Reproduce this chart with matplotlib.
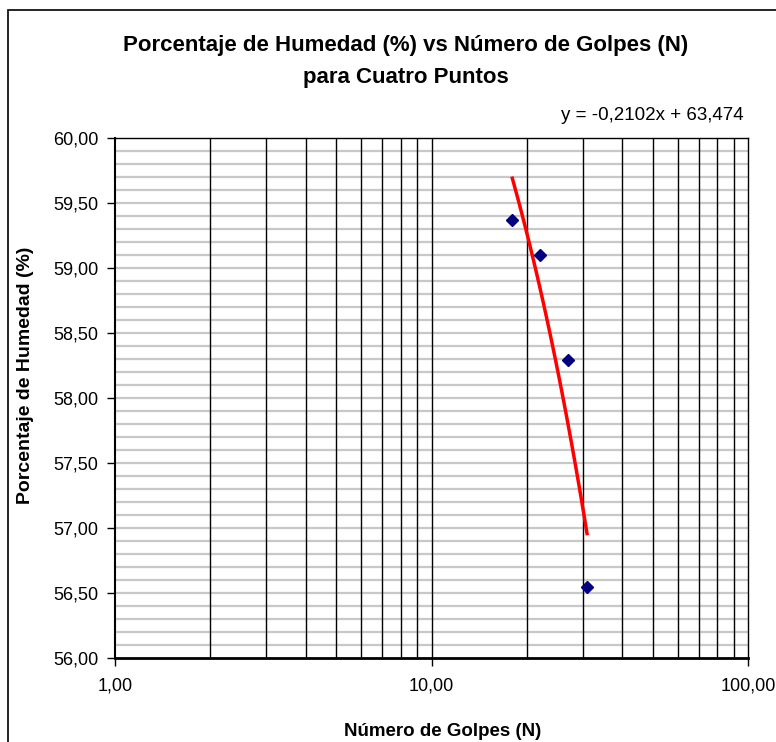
import matplotlib.pyplot as plt
import numpy as np
from matplotlib.patches import Rectangle
from matplotlib.ticker import FixedLocator, FuncFormatter, NullFormatter

plt.rcParams["font.family"] = ["Liberation Sans", "DejaVu Sans"]

# golpes (N) y humedad (%) de los cuatro puntos
golpes = [18, 22, 27, 31]
humedad = [59.37, 59.10, 58.29, 56.55]

# linea de tendencia que da Excel
slope = -0.2102
intercept = 63.474
trend_label = "y = -0,2102x + 63,474"

x_ticks = [1, 10, 100]
y_ticks = [56.0, 56.5, 57.0, 57.5, 58.0, 58.5, 59.0, 59.5, 60.0]


def comma(v, _pos=None):
    return f"{v:.2f}".replace(".", ",")


fig = plt.figure(figsize=(7.76, 7.42), dpi=100)
fig.patches.append(
    Rectangle((8 / 776, -0.05), 1.2, (742 - 10) / 742 + 0.05,
              transform=fig.transFigure, fill=False, edgecolor="black",
              linewidth=1.2)
)

ax = fig.add_axes([115 / 776, 84 / 742, 633 / 776, 520 / 742])
ax.set_xscale("log")
ax.set_xlim(1, 100)
ax.set_ylim(56, 60)

# rejilla
minor_x = [m * d for d in (1, 10) for m in range(2, 10)]
for xv in minor_x + [10]:
    ax.axvline(xv, color="black", linewidth=1.0, zorder=1)
for yv in np.arange(56.1, 60.0, 0.1):
    ax.axhline(yv, color="#c8c8c8", linewidth=1.6, zorder=0)

ax.xaxis.set_major_locator(FixedLocator(x_ticks))
ax.xaxis.set_major_formatter(FuncFormatter(comma))
ax.xaxis.set_minor_locator(FixedLocator([]))
ax.xaxis.set_minor_formatter(NullFormatter())
ax.yaxis.set_major_locator(FixedLocator(y_ticks))
ax.yaxis.set_major_formatter(FuncFormatter(comma))
ax.tick_params(axis="both", direction="out", length=6, width=1.0,
               labelsize=13)
ax.tick_params(axis="y", pad=6)
ax.tick_params(axis="x", pad=8)

for side in ("top", "right"):
    ax.spines[side].set_linewidth(1.0)
ax.spines["left"].set_linewidth(1.5)
ax.spines["bottom"].set_linewidth(2.0)

xt = np.linspace(min(golpes), max(golpes), 50)
ax.plot(xt, slope * xt + intercept, color="#ff0000", linewidth=2.5, zorder=3)
ax.plot(golpes, humedad, linestyle="none", marker="D", markersize=6,
        color="#000080", zorder=4)

fig.text(744 / 776, 1 - 116 / 742, trend_label, ha="right", va="center",
         fontsize=13.5)
fig.text(406 / 776, 1 - 46 / 742,
         "Porcentaje de Humedad (%) vs Número de Golpes (N)",
         ha="center", va="center", fontsize=16, fontweight="bold")
fig.text(406 / 776, 1 - 77 / 742, "para Cuatro Puntos",
         ha="center", va="center", fontsize=16, fontweight="bold")
fig.text(443 / 776, 1 - 732 / 742, "Número de Golpes (N)", ha="center",
         va="center", fontsize=13.5, fontweight="bold")
fig.text(26 / 776, 1 - 375 / 742, "Porcentaje de Humedad (%)", ha="center",
         va="center", rotation=90, fontsize=14, fontweight="bold")

fig.savefig("out.png", dpi=100)
